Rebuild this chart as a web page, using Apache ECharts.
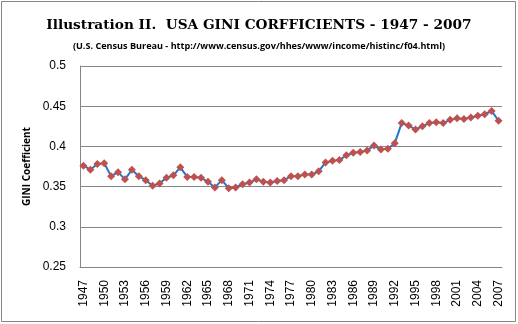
<!DOCTYPE html>
<html><head><meta charset="utf-8">
<script src="https://cdn.jsdelivr.net/npm/echarts@6/dist/echarts.min.js"></script>
<style>html,body{margin:0;padding:0;background:#fff}#c{width:518px;height:324px}</style>
</head><body><div id="c"></div>
<script>
const titleText = 'Illustration II.  USA GINI CORFFICIENTS - 1947 - 2007';
const subtitleText = '(U.S. Census Bureau - http://www.census.gov/hhes/www/income/histinc/f04.html)';
const yAxisName = 'GINI Coefficient';
const years = [];
for (let y = 1947; y <= 2007; y++) years.push(String(y));
const gini = [0.376,0.371,0.378,0.379,0.363,0.368,0.359,0.371,0.363,0.358,
  0.351,0.354,0.361,0.364,0.374,0.362,0.362,0.361,0.356,0.349,
  0.358,0.348,0.349,0.353,0.355,0.359,0.356,0.355,0.357,0.358,
  0.363,0.363,0.365,0.365,0.369,0.380,0.382,0.383,0.389,0.392,
  0.393,0.395,0.401,0.396,0.397,0.404,0.429,0.426,0.421,0.425,
  0.429,0.430,0.429,0.433,0.435,0.434,0.436,0.438,0.440,0.444,0.432];

const chart = echarts.init(document.getElementById('c'), null, {renderer:'canvas'});
chart.setOption({
  animation:false,
  backgroundColor:'#fff',
  graphic:[{type:'rect',shape:{x:1.5,y:1.5,width:514,height:320},style:{fill:'none',stroke:'#868686',lineWidth:1}}],
  title:[
    {text:titleText,left:'center',top:13,textStyle:{fontFamily:'DejaVu Serif',fontWeight:'bold',fontSize:13.7,color:'#000'}},
    {text:subtitleText,left:'center',top:37,textStyle:{fontFamily:'Open Sans',fontWeight:'bold',fontSize:9.1,color:'#000'}}
  ],
  grid:{left:80,right:16,top:66,bottom:57},
  xAxis:{type:'category',data:years,boundaryGap:true,
    axisLine:{lineStyle:{color:'#868686'}},axisTick:{show:false},
    axisLabel:{interval:2,rotate:90,margin:13,fontFamily:'Liberation Sans',fontSize:12,color:'#000'}},
  yAxis:{type:'value',min:0.25,max:0.5,interval:0.05,
    name:yAxisName,nameLocation:'middle',nameGap:47,nameRotate:90,
    nameTextStyle:{fontFamily:'Open Sans',fontWeight:'bold',fontSize:10,color:'#000'},
    axisLine:{show:true,lineStyle:{color:'#868686'}},axisTick:{show:false},
    splitLine:{lineStyle:{color:'#868686'}},
    axisLabel:{margin:14,fontFamily:'Liberation Sans',fontSize:12,color:'#000',
      formatter:v=>String(parseFloat(v.toFixed(2)))}},
  series:[{type:'line',data:gini,symbol:'diamond',symbolSize:8,showAllSymbol:true,
    lineStyle:{color:'#1F77C8',width:2},
    itemStyle:{color:'#C0504D'}}]
});
</script></body></html>
